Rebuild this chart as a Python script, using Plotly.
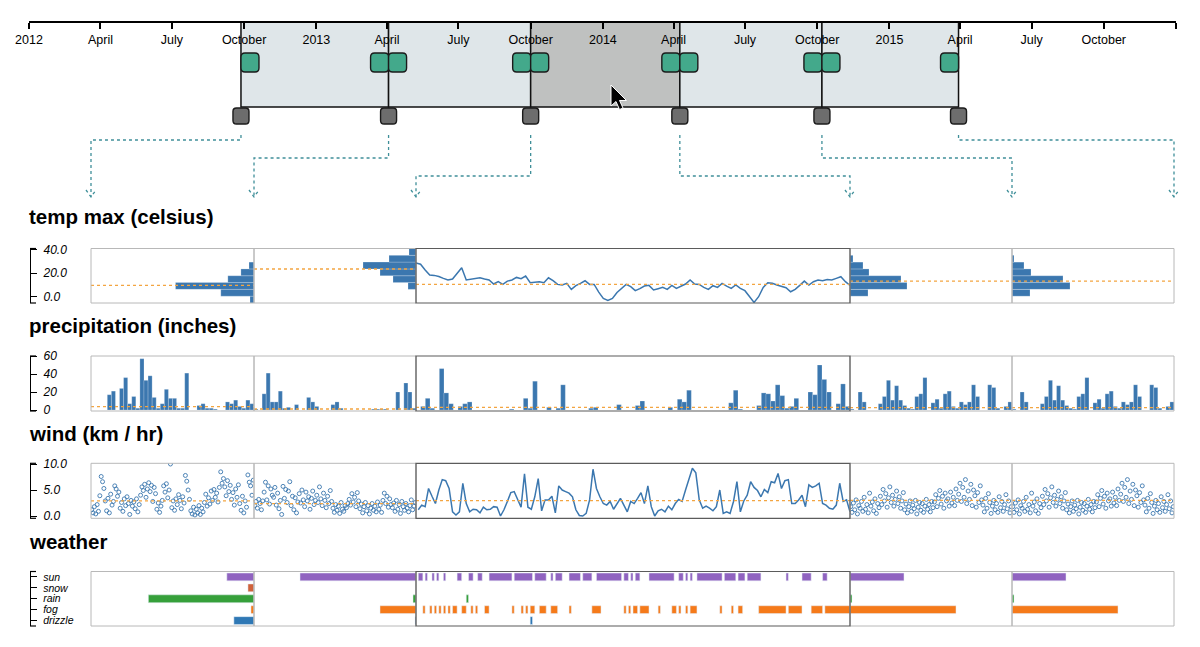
import pandas as pd
import plotly.graph_objects as go

W, H = 1200, 647
FONT = "Liberation Sans, Arial, Helvetica, sans-serif"
BLUE = "#3b77af"
MEAN_COLOR = "#f3a541"
TEAL = "#3f8f99"

# ---------------- overview timeline ----------------
timeline_range = ["2012-01-01", "2016-01-01"]
tick_dates = ["2012-01-01", "2012-04-01", "2012-07-01", "2012-10-01",
              "2013-01-01", "2013-04-01", "2013-07-01", "2013-10-01",
              "2014-01-01", "2014-04-01", "2014-07-01", "2014-10-01",
              "2015-01-01", "2015-04-01", "2015-07-01", "2015-10-01",
              "2016-01-01"]
tick_text = ["2012", "April", "July", "October", "2013", "April", "July", "October",
             "2014", "April", "July", "October", "2015", "April", "July", "October", ""]
window_edges = ["2012-09-27", "2013-04-03", "2013-10-01", "2014-04-09", "2014-10-07", "2015-03-30"]
focus_window = 2
focus_range = ["2013-10-01", "2014-04-09"]

# ---------------- temp max (celsius) ----------------
temp_bin_edges = [-5.3, 0.45, 6.2, 11.95, 17.7, 23.45, 29.2, 34.95, 40.7]
temp_hist_s1 = [4, 33, 78, 26, 13, 5, 0, 0]
temp_hist_s2 = [0, 0, 8, 23, 36, 53, 27, 7]
temp_hist_s4 = [0, 18, 57, 51, 19, 13, 3, 0]
temp_hist_s5 = [0, 18, 58, 51, 19, 12, 2, 0]
temp_means = [9.6, 23.4, 10.4, 13.2, 13.2]
temp_focus = [28.5, 27.4, 22.5, 18.3, 18.0, 17.1, 15.5, 14.1, 14.9, 19.7,
              24.5, 14.1, 14.9, 15.5, 16.0, 14.9, 14.1, 10.7, 12.7, 10.4,
              13.2, 14.1, 16.3, 15.2, 17.4, 11.8, 12.1, 12.7, 11.8, 16.0,
              13.5, 10.4, 9.9, 11.3, 6.2, 9.3, 11.3, 13.5, 10.4, 10.4,
              3.9, -1.4, -3.1, -1.4, 3.6, 7.1, 10.4, 8.5, 5.1, 6.8,
              9.0, 9.6, 5.7, 6.8, 7.9, 6.2, 9.6, 7.1, 9.0, 10.7,
              14.1, 10.7, 10.4, 7.9, 6.2, 9.3, 7.9, 11.3, 9.0, 7.1,
              9.9, 7.1, 5.1, 0.0, -4.8, 0.0, 7.9, 11.8, 11.3, 9.9,
              8.5, 7.6, 4.2, 6.2, 9.6, 13.2, 9.9, 12.7, 14.1, 13.5,
              14.6, 14.1, 15.5, 16.9, 12.7, 9.6]

# ---------------- precipitation ----------------
precip_s1 = [0, 0, 0, 0, 17, 21, 0, 24, 36, 7, 15, 2, 57, 33, 38, 14, 2, 7, 23, 13,
             13, 2, 2, 41, 0, 0, 5, 7, 2, 2, 1, 0, 0, 9, 7, 11, 4, 2, 11, 7]
precip_s2 = [1, 0, 18, 41, 9, 9, 21, 2, 3, 0, 6, 0, 0, 14, 9, 4, 0, 0, 0, 6,
             9, 2, 0, 0, 0, 0, 0, 0, 0, 1, 1, 1, 1, 0, 0, 20, 0, 30, 20, 2]
precip_s4 = [1, 0, 20, 9, 0, 0, 0, 7, 15, 33, 11, 27, 11, 5, 2, 1, 15, 18, 36, 0,
             8, 12, 2, 18, 21, 4, 2, 9, 6, 9, 28, 15, 0, 0, 28, 25, 2, 0, 4, 9]
precip_s5 = precip_s4
precip_focus = [0, 4, 13, 2, 0, 46, 19, 7, 0, 4,
                7, 9, 0, 0, 0, 0, 0, 0, 0, 0,
                1, 0, 0, 13, 2, 32, 0, 0, 3, 0,
                2, 28, 0, 0, 0, 0, 0, 2, 3, 0,
                0, 0, 0, 6, 0, 0, 0, 5, 10, 0,
                0, 0, 0, 0, 3, 0, 12, 9, 22, 0,
                0, 0, 0, 0, 0, 0, 0, 8, 22, 1,
                0, 0, 0, 5, 19, 18, 10, 28, 16, 2,
                4, 13, 0, 0, 20, 17, 50, 34, 20, 0,
                7, 29, 4]
precip_means = [3.7, 1.1, 3.0, 2.6, 2.6]

# ---------------- wind ----------------
wind_s1 = [1.2, 0.6, 1.8, 0.4, 2.2, 0.9, 3.9, 7.6, 6.6, 5.3,
           2.9, 1.0, 3.4, 0.6, 4.2, 2.1, 2.8, 5.8, 5.2, 3.8,
           4.6, 1.5, 2.6, 0.9, 3.3, 2.0, 3.7, 2.4, 0.3, 3.0,
           1.9, 2.7, 1.4, 3.3, 0.8, 2.2, 4.0, 5.6, 4.9, 6.1,
           3.6, 5.2, 6.4, 4.7, 5.9, 2.8, 5.5, 4.3, 1.3, 2.5,
           0.7, 1.9, 3.0, 5.8, 4.6, 6.2, 3.5, 5.0, 10.0, 1.6,
           2.9, 1.1, 3.3, 2.2, 4.1, 3.0, 1.4, 3.7, 2.5, 7.8,
           6.7, 5.0, 3.2, 1.0, 0.4, 1.7, 0.2, 1.3, 0.6, 2.0,
           0.3, 1.5, 0.8, 2.6, 4.2, 1.9, 3.5, 2.3, 4.8, 3.0,
           5.1, 3.6, 4.4, 2.7, 5.5, 8.5, 6.3, 7.2, 5.6, 3.9,
           6.8, 4.7, 5.9, 3.2, 4.5, 2.1, 5.2, 3.6, 6.0, 2.4,
           1.1, 3.8, 0.6, 2.9, 1.7, 7.9, 6.5, 5.8, 4.0, 6.9]
wind_s2 = [2.0, 2.8, 1.5, 3.2, 2.4, 1.2, 2.9, 4.6, 6.5, 3.1,
           5.8, 2.3, 5.2, 4.0, 3.6, 5.5, 2.1, 4.4, 1.4, 3.0,
           0.3, 5.7, 3.4, 5.1, 2.6, 4.8, 6.6, 2.0, 3.8, 1.2,
           3.5, 0.6, 2.7, 4.3, 2.5, 5.0, 3.1, 1.8, 4.6, 2.9,
           3.7, 1.3, 3.4, 4.8, 2.2, 3.0, 4.0, 2.6, 5.6, 3.3,
           2.0, 4.4, 3.0, 1.6, 3.8, 2.4, 4.9, 2.8, 1.5, 0.7,
           2.2, 1.1, 1.9, 0.5, 2.6, 1.3, 0.9, 2.0, 1.6, 2.4,
           3.2, 2.1, 4.3, 2.7, 3.6, 1.8, 4.5, 2.9, 1.4, 2.3,
           0.6, 1.8, 2.6, 1.0, 2.0, 0.4, 1.5, 2.4, 1.1, 1.9,
           0.8, 2.7, 1.3, 2.1, 0.7, 3.0, 4.4, 2.4, 3.8, 1.7,
           3.3, 2.2, 1.6, 2.5, 0.9, 3.0, 1.3, 2.2, 0.5, 2.8,
           1.8, 1.1, 2.4, 1.5, 0.8, 2.0, 3.1, 1.2, 1.9, 2.6]
wind_s4 = [1.8, 0.7, 2.5, 1.2, 3.1, 0.4, 2.0, 1.5, 2.8, 0.9,
           3.6, 1.3, 2.2, 0.6, 4.4, 1.9, 2.7, 1.0, 3.3, 0.5,
           2.4, 1.6, 3.8, 2.2, 5.1, 2.9, 4.3, 1.7, 3.5, 5.6,
           2.6, 4.0, 1.9, 3.2, 4.8, 2.4, 3.7, 1.5, 2.9, 4.5,
           1.2, 2.3, 0.6, 1.8, 2.9, 0.9, 2.1, 1.4, 3.0, 0.4,
           1.7, 2.6, 1.1, 2.4, 0.7, 1.9, 3.2, 1.3, 2.2, 0.8,
           2.8, 1.6, 2.7, 4.1, 1.8, 3.4, 4.9, 2.3, 3.8, 1.5,
           4.4, 2.9, 3.3, 1.9, 4.6, 2.5, 3.6, 2.0, 5.2, 3.0,
           4.2, 6.3, 2.8, 5.5, 3.6, 7.0, 2.4, 4.8, 3.2, 6.1,
           2.0, 5.0, 3.9, 1.7, 4.5, 2.6, 5.8, 3.1, 2.1, 0.8,
           3.4, 1.5, 4.3, 2.6, 0.5, 1.9, 3.0, 1.2, 2.4, 0.7,
           3.7, 1.6, 2.8, 0.9, 2.2, 4.1, 1.4, 2.9, 0.6, 1.8]
wind_s5 = wind_s4
wind_focus = [1.2, 2.1, 1.8, 5.3, 3.8, 2.4, 5.0, 7.0, 6.8, 5.3,
              0.8, 0.2, 0.8, 6.3, 2.4, 0.8, 1.3, 1.2, 0.6, 1.7,
              1.2, 1.3, 1.8, 1.7, 0.0, 1.2, 2.8, 4.5, 4.7, 3.1,
              1.7, 8.1, 1.7, 1.3, 3.7, 7.2, 1.0, 3.1, 3.1, 3.8,
              0.6, 5.8, 5.0, 4.7, 4.4, 3.7, 1.2, 0.1, 0.0, 0.5,
              3.1, 9.0, 5.3, 3.7, 2.4, 2.1, 2.8, 1.3, 2.4, 3.4,
              2.1, 0.8, 2.8, 2.4, 3.4, 4.5, 2.4, 5.8, 1.8, 0.0,
              1.0, 1.3, 0.8, 1.9, 1.2, 2.4, 3.2, 2.8, 5.0, 7.2,
              9.2, 8.3, 3.1, 1.5, 1.9, 1.5, 1.0, 1.8, 5.0, 0.5,
              0.8, 0.5, 2.8, 6.6, 0.8, 2.9, 4.0, 6.6, 5.5, 4.9,
              3.7, 5.1, 4.5, 6.6, 6.4, 8.2, 5.3, 6.8, 7.0, 2.4,
              2.4, 3.1, 4.0, 1.8, 6.0, 5.5, 5.8, 6.3, 2.4, 2.1,
              1.5, 1.3, 2.1, 6.3, 2.8, 3.1, 0.8]
wind_means = [2.9, 2.4, 2.95, 3.0, 3.0]

# ---------------- weather ----------------
weather_cats = ["sun", "snow", "rain", "fog", "drizzle"]
weather_colors = ["#9063c0", "#d0623a", "#36a03a", "#f57a1a", "#2f78b5"]
weather_s1 = [27, 6, 105, 3, 20]
weather_s2 = [116, 0, 3, 36, 1]
weather_s4 = [54, 0, 2, 106, 0]
weather_s5 = weather_s4
# focus window: runs of days (start day, length in days)
sun_start = [1, 4, 7, 9, 12, 18, 23, 27, 32, 43, 52, 59, 61, 67, 73, 79, 91, 94, 96, 102,
             115, 118, 120, 123, 135, 141, 145, 162, 169, 178]
sun_len = [2, 1, 1, 1, 1, 2, 2, 2, 10, 8, 5, 1, 3, 5, 4, 11, 2, 1, 2, 11,
           2, 1, 1, 11, 5, 3, 6, 1, 4, 2]
fog_start = [3, 6, 8, 10, 12, 14, 16, 20, 24, 26, 30, 42, 46, 48, 50, 54, 59, 67, 77, 91,
             93, 95, 98, 106, 112, 115, 118, 120, 133, 138, 141, 150, 163, 173, 179]
fog_len = [1, 1, 1, 1, 1, 1, 2, 2, 1, 1, 2, 1, 1, 1, 2, 3, 3, 1, 4, 1,
           1, 2, 4, 1, 2, 1, 1, 3, 1, 1, 2, 12, 6, 5, 11]
rain_start, rain_len = [22], [1]
drizzle_start, drizzle_len = [50], [1]
focus_days = 190

# ---------------- page geometry (pixels) ----------------
STRIP_EDGES = [91, 254, 416, 850, 1012, 1174]
ROW_TOP = [248.5, 356, 463.3, 571.5]
ROW_BOTTOM = [303, 411, 518.3, 626]
TITLE_Y = [216, 325, 433, 541]
TITLES = ["temp max (celsius)", "precipitation (inches)", "wind (km / hr)", "weather"]
AX_Y = 22
AX_X0, AX_X1 = 29, 1176


def P(x, y):
    return f"{x / W:.5f},{1 - y / H:.5f}"


def rounded_rect(x0, y0, x1, y1, r):
    return (f"M{P(x0 + r, y0)} L{P(x1 - r, y0)} Q{P(x1, y0)} {P(x1, y0 + r)} "
            f"L{P(x1, y1 - r)} Q{P(x1, y1)} {P(x1 - r, y1)} L{P(x0 + r, y1)} "
            f"Q{P(x0, y1)} {P(x0, y1 - r)} L{P(x0, y0 + r)} Q{P(x0, y0)} {P(x0 + r, y0)} Z")


t0, t1 = pd.Timestamp(timeline_range[0]), pd.Timestamp(timeline_range[1])


def bx(d):
    return AX_X0 + (pd.Timestamp(d) - t0) / (t1 - t0) * (AX_X1 - AX_X0)


def cell(r, s):
    return f"x{2 + r * 5 + s}", f"y{r + 2}"


fig = go.Figure()

# invisible trace so the overview axis gets drawn
fig.add_trace(go.Scatter(x=window_edges, y=[0.5] * len(window_edges), mode="markers",
                         marker=dict(opacity=0), hoverinfo="skip", xaxis="x", yaxis="y"))

bar_line = dict(color="rgba(255,255,255,0.55)", width=0.4)

# temp row
temp_centers = [(a + b) / 2 for a, b in zip(temp_bin_edges[:-1], temp_bin_edges[1:])]
temp_bin_w = temp_bin_edges[1] - temp_bin_edges[0]
for s, counts in [(0, temp_hist_s1), (1, temp_hist_s2), (3, temp_hist_s4), (4, temp_hist_s5)]:
    xa, ya = cell(0, s)
    fig.add_trace(go.Bar(y=temp_centers, x=counts, orientation="h", width=temp_bin_w,
                         marker=dict(color=BLUE, line=bar_line), xaxis=xa, yaxis=ya))
xa, ya = cell(0, 2)
fig.add_trace(go.Scatter(x=pd.date_range(focus_range[0], periods=len(temp_focus), freq="2D"),
                         y=temp_focus, mode="lines", line=dict(color=BLUE, width=1.5),
                         xaxis=xa, yaxis=ya))

# precipitation row
for s, vals in [(0, precip_s1), (1, precip_s2), (2, precip_focus), (3, precip_s4), (4, precip_s5)]:
    xa, ya = cell(1, s)
    fig.add_trace(go.Bar(x=list(range(len(vals))), y=vals, width=1,
                         marker=dict(color=BLUE, line=bar_line), xaxis=xa, yaxis=ya))

# wind row
for s, vals in [(0, wind_s1), (1, wind_s2), (3, wind_s4), (4, wind_s5)]:
    xa, ya = cell(2, s)
    fig.add_trace(go.Scatter(x=list(range(len(vals))), y=vals, mode="markers",
                             marker=dict(symbol="circle-open", size=4, color=BLUE,
                                         line=dict(width=0.9)),
                             xaxis=xa, yaxis=ya))
xa, ya = cell(2, 2)
fig.add_trace(go.Scatter(x=pd.date_range("2013-10-02", periods=len(wind_focus), freq="36h"),
                         y=wind_focus, mode="lines", line=dict(color=BLUE, width=1.5),
                         xaxis=xa, yaxis=ya))

# weather row
for s, counts in [(0, weather_s1), (1, weather_s2), (3, weather_s4), (4, weather_s5)]:
    xa, ya = cell(3, s)
    fig.add_trace(go.Bar(y=weather_cats, x=counts, orientation="h", width=0.72,
                         marker=dict(color=weather_colors), xaxis=xa, yaxis=ya))
xa, ya = cell(3, 2)
for cat, starts, lens in [("sun", sun_start, sun_len), ("fog", fog_start, fog_len),
                          ("rain", rain_start, rain_len), ("drizzle", drizzle_start, drizzle_len)]:
    fig.add_trace(go.Bar(y=[cat] * len(starts), x=lens, base=starts, orientation="h", width=0.72,
                         marker=dict(color=weather_colors[weather_cats.index(cat)]),
                         xaxis=xa, yaxis=ya))

# ---------------- axes ----------------
layout = dict(
    xaxis=dict(domain=[AX_X0 / W, AX_X1 / W], range=timeline_range, type="date",
               anchor="free", position=1 - AX_Y / H, side="bottom", automargin=False,
               tickmode="array", tickvals=tick_dates, ticktext=tick_text,
               ticks="outside", ticklen=6, tickwidth=1.5, tickcolor="black",
               showline=True, linecolor="black", linewidth=1.5, showgrid=False, zeroline=False,
               tickfont=dict(family=FONT, size=12.5, color="black")),
    yaxis=dict(domain=[1 - 130 / H, 1 - AX_Y / H], range=[0, 1], visible=False, automargin=False),
)

count_ranges = {0: [162, 0], 1: [162, 0], 3: [0, 162], 4: [0, 162]}
for r in range(4):
    for s in range(5):
        n = 2 + r * 5 + s
        ax = dict(domain=[STRIP_EDGES[s] / W, STRIP_EDGES[s + 1] / W], anchor=f"y{r + 2}",
                  visible=False, showgrid=False, zeroline=False, automargin=False)
        if r in (0, 3) and s != 2:
            ax["range"] = count_ranges[s]
        elif r == 1:
            ax["range"] = [-0.5, len(precip_focus) - 0.5] if s == 2 else [-0.5, len(precip_s1) - 0.5]
        elif r == 2 and s != 2:
            ax["range"] = [-0.5, len(wind_s1) - 0.5]
        elif r == 3:
            ax["range"] = [0, focus_days]
        else:
            ax["range"] = focus_range
            ax["type"] = "date"
        layout[f"xaxis{n}"] = ax

yfont = dict(family=FONT, size=12, color="black", style="italic")
ybase = dict(anchor="free", position=30 / W, side="right", showline=True, linecolor="black",
             linewidth=1.2, ticks="outside", ticklen=6, tickwidth=1.2, tickcolor="black",
             showgrid=False, zeroline=False, ticklabelstandoff=4, automargin=False)
y_specs = [
    dict(range=[-5.3, 40.7], tickvals=[0, 20, 40], tickformat=".1f", tickfont=yfont),
    dict(range=[-1.1, 60.0], tickvals=[0, 20, 40, 60], tickformat="d", tickfont=yfont),
    dict(range=[-0.44, 10.14], tickvals=[0, 5, 10], tickformat=".1f", tickfont=yfont),
    dict(type="category", categoryorder="array", categoryarray=weather_cats[::-1],
         range=[-0.5, len(weather_cats) - 0.5], tickmode="array", tickvals=weather_cats,
         ticktext=weather_cats, tickfont=dict(yfont, size=10.5)),
]
for r in range(4):
    layout[f"yaxis{r + 2}"] = dict(domain=[1 - ROW_BOTTOM[r] / H, 1 - ROW_TOP[r] / H],
                                   **ybase, **y_specs[r])

# ---------------- shapes ----------------
shapes = []

# brush windows on the overview
for i in range(len(window_edges) - 1):
    shapes.append(dict(type="rect", xref="x", yref="paper", layer="below",
                       x0=window_edges[i], x1=window_edges[i + 1],
                       y0=1 - 107 / H, y1=1 - AX_Y / H,
                       fillcolor="#bfc1c0" if i == focus_window else "#dfe6e9",
                       line=dict(color="#111111", width=1.5)))

edge_px = [bx(d) for d in window_edges]
# green resize handles
for i in range(len(edge_px) - 1):
    for hx0, hx1 in [(edge_px[i], edge_px[i] + 18), (edge_px[i + 1] - 18, edge_px[i + 1])]:
        shapes.append(dict(type="path", xref="paper", yref="paper",
                           path=rounded_rect(hx0, 53, hx1, 72, 4),
                           fillcolor="#43a98b", line=dict(color="#1b1b1b", width=1.4)))
# gray boundary handles
for e in edge_px:
    shapes.append(dict(type="path", xref="paper", yref="paper",
                       path=rounded_rect(e - 8, 108, e + 8, 124, 3.5),
                       fillcolor="#6d6d6d", line=dict(color="#1b1b1b", width=1.4)))

# dotted connectors to the panel strips
levels = [140, 158, 176, 176, 158, 140]
for e, lvl, tx in zip(edge_px, levels, STRIP_EDGES):
    shapes.append(dict(type="path", xref="paper", yref="paper",
                       path=f"M{P(e, 135)} L{P(e, lvl)} L{P(tx, lvl)} L{P(tx, 197)}",
                       line=dict(color=TEAL, width=1.3, dash="dot")))
    shapes.append(dict(type="path", xref="paper", yref="paper",
                       path=f"M{P(tx - 5, 190)} L{P(tx, 197)} L{P(tx + 5, 190)}",
                       line=dict(color=TEAL, width=1.3, dash="dot")))

# mouse pointer
cx, cy = 611, 85
pointer = [(0, 0), (0, 21), (5, 16.5), (8.5, 24.5), (12, 23), (8.5, 15.5), (15.5, 15.5)]
shapes.append(dict(type="path", xref="paper", yref="paper",
                   path="M" + " L".join(P(cx + a, cy + b) for a, b in pointer) + " Z",
                   fillcolor="black", line=dict(color="white", width=1)))

# mean lines
all_means = [temp_means, precip_means, wind_means]
for r, means in enumerate(all_means):
    for s, m in enumerate(means):
        xa, ya = cell(r, s)
        shapes.append(dict(type="line", xref=f"{xa} domain", yref=ya, x0=0, x1=1, y0=m, y1=m,
                           line=dict(color=MEAN_COLOR, width=1.3, dash="dot")))

# strip frames
for r in range(4):
    for s in [0, 1, 3, 4, 2]:
        xa, ya = cell(r, s)
        shapes.append(dict(type="rect", xref=f"{xa} domain", yref=f"{ya} domain",
                           x0=0, x1=1, y0=0, y1=1,
                           line=dict(color="#5b5b5b" if s == 2 else "#b8b8b8",
                                     width=1.2 if s == 2 else 1)))
    # outer ticks of the bracket axis
    for yv in (0, 1):
        shapes.append(dict(type="line", xref="paper", yref=f"y{r + 2} domain",
                           x0=30 / W, x1=36 / W, y0=yv, y1=yv,
                           line=dict(color="black", width=1.2)))

annotations = [dict(text=f"<b>{t}</b>", x=27 / W, y=1 - ty / H, xref="paper", yref="paper",
                    xanchor="left", yanchor="middle", showarrow=False,
                    font=dict(family=FONT, size=20.5, color="black"))
               for t, ty in zip(TITLES, TITLE_Y)]

fig.update_layout(**layout)
fig.update_layout(
    width=W, height=H, margin=dict(l=0, r=0, t=0, b=0, pad=0, autoexpand=False),
    paper_bgcolor="white", plot_bgcolor="rgba(0,0,0,0)",
    showlegend=False, barmode="overlay",
    shapes=shapes, annotations=annotations,
    font=dict(family=FONT, color="black"),
)

fig.write_html("out.html", config={"displayModeBar": False},
               post_script="document.body.style.margin='0';")
